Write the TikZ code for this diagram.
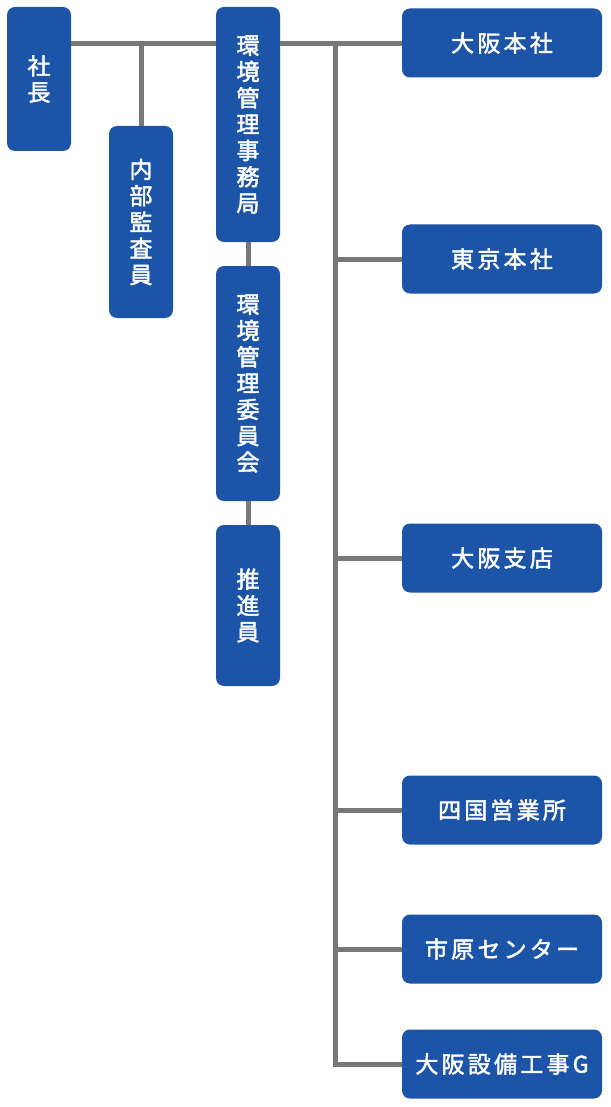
\documentclass[tikz,border=0pt]{standalone}
\usepackage{fontspec}
\newfontfamily\jpfont[FakeBold=2]{Noto Sans CJK JP}
\newfontfamily\jpwidefont[FakeBold=2, LetterSpace=14]{Noto Sans CJK JP}
\definecolor{boxblue}{HTML}{1C54A8}
\definecolor{linegray}{HTML}{787878}
\tikzset{
    every node/.style={fill=boxblue, rounded corners=8pt, text=white,
    	inner sep=0pt}
}
\tikzset{
    tallbox/.style={minimum width=64pt, align=center,
    	font=\jpfont\fontsize{23}{26.3}\selectfont},
    widebox/.style={minimum width=200pt, minimum height=69pt,
    	font=\jpwidefont\fontsize{23}{26}\selectfont}
}
\tikzset{
	link/.style={draw=linegray, line width=5pt}
}

\begin{document}
\begin{tikzpicture}[x=1pt, y=-1pt]
	\useasboundingbox (0,0) rectangle (610,1107);
	\node (shacho) [tallbox, minimum height=144pt] at (39,79) {社\\長};
	\node (kansa) [tallbox, minimum height=192pt] at (141,222) {内\\部\\監\\査\\員};
	\node (jimu) [tallbox, minimum height=235pt] at (248,124.5) {環\\境\\管\\理\\事\\務\\局};
	\node (iinkai) [tallbox, minimum height=235pt] at (248,383.5) {環\\境\\管\\理\\委\\員\\会};
	\node (suishin) [tallbox, minimum height=161pt] at (248,605.5) {推\\進\\員};
	
	\node (osaka) [widebox] at (502,43) {大阪本社};
	\node (tokyo) [widebox] at (502,259) {東京本社};
	\node (shiten) [widebox] at (502,558) {大阪支店};
	\node (shikoku) [widebox] at (502,810) {四国営業所};
	\node (ichihara) [widebox] at (502,949) {市原センター};
	\node (setsubi) [widebox] at (502,1064) {大阪設備工事G};
	
	\coordinate (kansaj) at (141,44);
	\coordinate (trunk) at (335,44);
	
	\draw [link] (shacho.east |- kansaj) -- (jimu.west |- kansaj);
	\draw [link] (kansaj) -- (kansa.north);
	\draw [link] (jimu) -- (iinkai); \draw [link] (iinkai) -- (suishin);
	\draw [link] (jimu.east |- trunk) -- (osaka.west |- trunk);
	\draw [link] (trunk) |- (setsubi.west);
	\draw [link] (trunk |- tokyo.west) -- (tokyo.west);
	\draw [link] (trunk |- shiten.west) -- (shiten.west);
	\draw [link] (trunk |- shikoku.west) -- (shikoku.west);
	\draw [link] (trunk |- ichihara.west) -- (ichihara.west);
\end{tikzpicture}
\end{document}
